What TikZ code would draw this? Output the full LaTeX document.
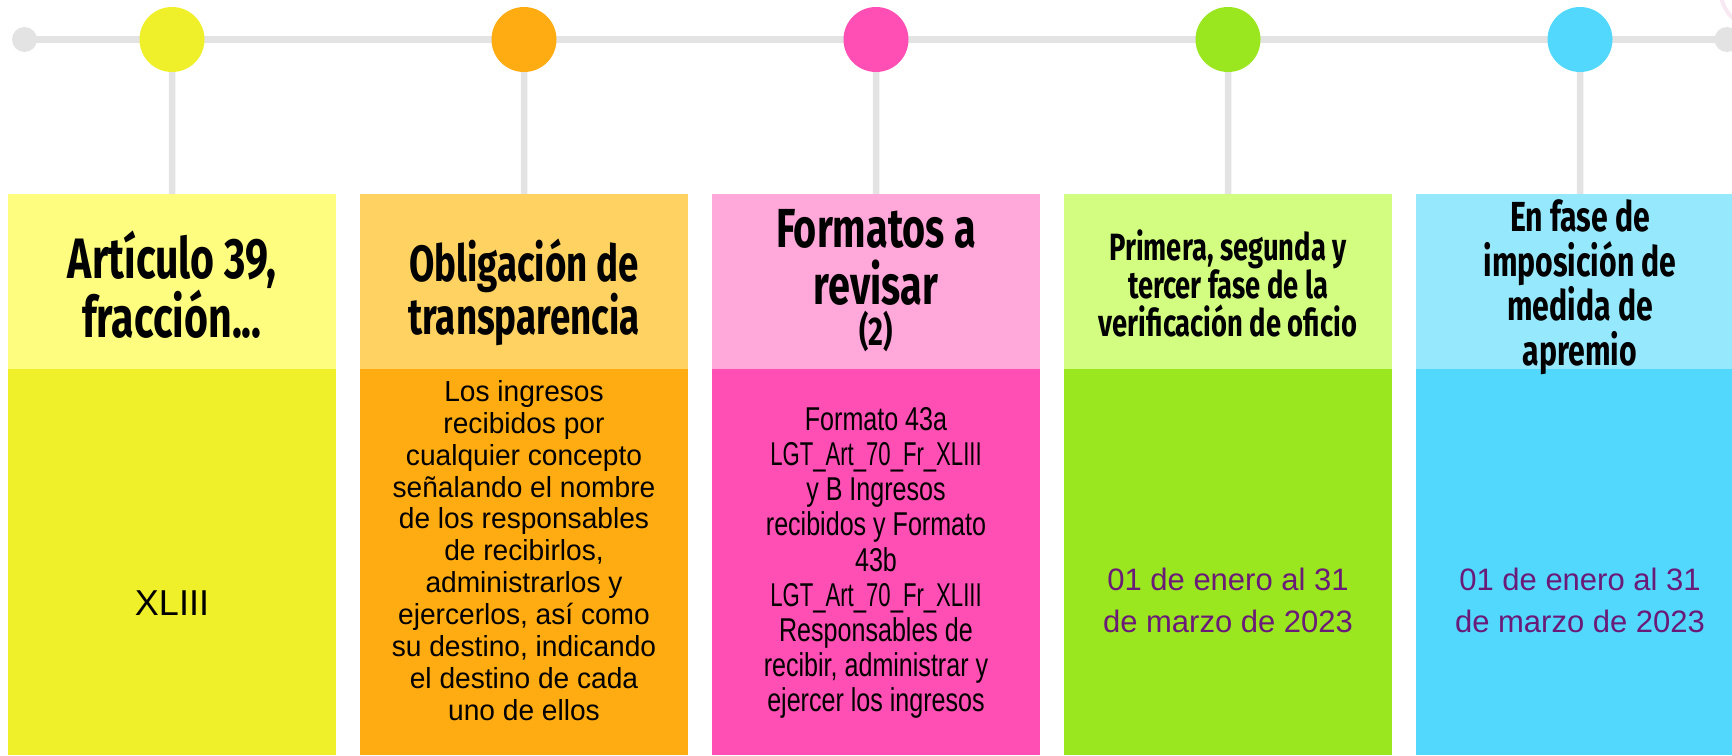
\documentclass[tikz,border=0pt]{standalone}
\usepackage{fontspec}
\setmainfont{Liberation Sans}
\newfontfamily\headfont[FakeStretch=0.72]{Fira Sans}
\newfontfamily\bodyfont{Liberation Sans}
\newfontfamily\orfont[FakeStretch=0.97]{Liberation Sans}
\newfontfamily\pkfont[FakeStretch=0.76]{Liberation Sans}
\newfontfamily\pkfontnarrow[FakeStretch=0.67]{Liberation Sans}
\usetikzlibrary{backgrounds}
\definecolor{lineGray}{HTML}{E3E3E3}
\definecolor{yH}{HTML}{FFFD80}
\definecolor{yB}{HTML}{F0F02A}
\definecolor{oH}{HTML}{FFD262}
\definecolor{oB}{HTML}{FFAB12}
\definecolor{pH}{HTML}{FFA8D9}
\definecolor{pB}{HTML}{FF4FB4}
\definecolor{gH}{HTML}{D2FD80}
\definecolor{gB}{HTML}{9AE61F}
\definecolor{bH}{HTML}{96E8FD}
\definecolor{bB}{HTML}{52D8FC}
\definecolor{datePurple}{HTML}{6A1B78}
\definecolor{faintPink}{HTML}{F8E8F2}
\begin{document}
\begin{tikzpicture}[x=1pt,y=-1pt,
  conn/.style={draw=lineGray,line width=6.5pt},
  enddot/.style={circle,fill=lineGray,inner sep=0pt,minimum size=25pt},
  bigdot/.style={circle,inner sep=0pt,minimum size=65pt},
  hdr/.style={rectangle,anchor=north west,inner sep=0pt,minimum width=328pt,minimum height=175pt},
  bdy/.style={rectangle,anchor=north west,inner sep=0pt,minimum width=328pt,minimum height=386pt},
  htext/.style={align=center,inner sep=0pt,text=black},
  btext/.style={align=center,inner sep=0pt,text=black},
]
\useasboundingbox (0,0) rectangle (1732,755);
% end dots and circles
\node[enddot] (ld) at (24.5,39.5) {};
\node[enddot] (rd) at (1727,39.5) {};
\node[bigdot,fill=yB] (c1) at (172,39.5) {};
\node[bigdot,fill=oB] (c2) at (524,39.5) {};
\node[bigdot,fill=pB] (c3) at (876,39.5) {};
\node[bigdot,fill=gB] (c4) at (1228,39.5) {};
\node[bigdot,fill=bB] (c5) at (1580,39.5) {};
% header boxes
\node[hdr,fill=yH] (h1) at (8,194) {};
\node[hdr,fill=oH] (h2) at (360,194) {};
\node[hdr,fill=pH] (h3) at (712,194) {};
\node[hdr,fill=gH] (h4) at (1064,194) {};
\node[hdr,fill=bH] (h5) at (1416,194) {};
% body boxes
\node[bdy,fill=yB] (b1) at (8,369) {};
\node[bdy,fill=oB] (b2) at (360,369) {};
\node[bdy,fill=pB] (b3) at (712,369) {};
\node[bdy,fill=gB] (b4) at (1064,369) {};
\node[bdy,fill=bB] (b5) at (1416,369) {};
% background and connectors
\begin{pgfonlayer}{background}
\fill[white] (0,0) rectangle (1732,755);
\draw[faintPink,line width=4pt] (1762,-12) circle[radius=42pt];
\draw[conn] (ld.center) -- (rd.center);
\draw[conn] (c1.center) -- (h1.north);
\draw[conn] (c2.center) -- (h2.north);
\draw[conn] (c3.center) -- (h3.north);
\draw[conn] (c4.center) -- (h4.north);
\draw[conn] (c5.center) -- (h5.north);
\end{pgfonlayer}
% header texts
\node[htext,font={\headfont\bfseries\fontsize{57}{59}\selectfont}] (t1) at (172,285) {Artículo 39,\\fracción...};
\node[htext,font={\headfont\bfseries\fontsize{51}{53}\selectfont}] (t2) at (524,292) {Obligación de\\transparencia};
\node[htext,font={\headfont\bfseries\fontsize{55}{57}\selectfont}] (t3) at (876,257) {Formatos a\\revisar};
\node[htext,font={\headfont\bfseries\fontsize{40}{42}\selectfont}] (t3b) at (876,331) {(2)};
\node[htext,font={\headfont\bfseries\fontsize{38}{38}\selectfont}] (t4) at (1228,283) {Primera, segunda y\\tercer fase de la\\verificación de oficio};
\node[htext,font={\headfont\bfseries\fontsize{42}{44.5}\selectfont}] (t5) at (1580,287) {En fase de\\imposición de\\medida de\\apremio};
% body texts
\node[btext,font={\bodyfont\fontsize{36}{40}\selectfont}] (x1) at (172,603) {XLIII};
\node[btext,font={\orfont\fontsize{29}{31.9}\selectfont}] (x2) at (524,550.5) {Los ingresos\\recibidos por\\cualquier concepto\\señalando el nombre\\de los responsables\\de recibirlos,\\administrarlos y\\ejercerlos, así como\\su destino, indicando\\el destino de cada\\uno de ellos};
\node[btext,font={\pkfont\fontsize{33}{35.2}\selectfont}] (x3) at (876,563) {Formato 43a\\{\pkfontnarrow LGT\_Art\_70\_Fr\_XLIII}\\y B Ingresos\\recibidos y Formato\\43b\\{\pkfontnarrow LGT\_Art\_70\_Fr\_XLIII}\\Responsables de\\recibir, administrar y\\ejercer los ingresos};
\node[btext,text=datePurple,font={\bodyfont\fontsize{31}{42}\selectfont}] (x4) at (1228,600) {01 de enero al 31\\de marzo de 2023};
\node[btext,text=datePurple,font={\bodyfont\fontsize{31}{42}\selectfont}] (x5) at (1580,600) {01 de enero al 31\\de marzo de 2023};
\end{tikzpicture}
\end{document}
